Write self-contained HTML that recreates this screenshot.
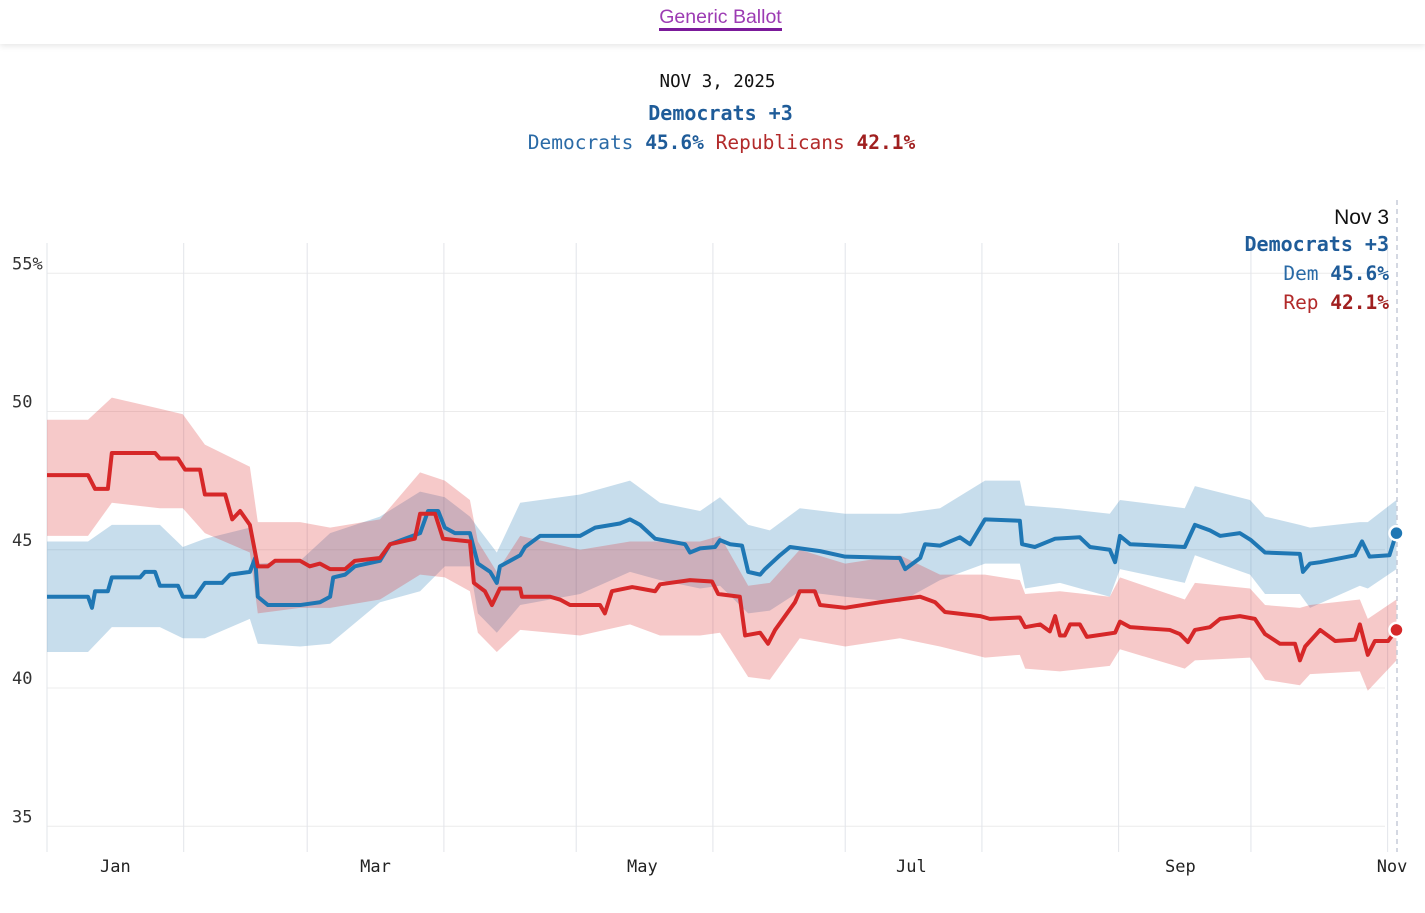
<!DOCTYPE html>
<html><head><meta charset="utf-8"><style>
html,body{margin:0;padding:0;background:#fff;width:1425px;height:913px;overflow:hidden}
.mono{font-family:"DejaVu Sans Mono","Liberation Mono",monospace}
#hdr{position:absolute;left:0;top:0;width:1425px;height:44px;background:#fff;box-shadow:0 2px 6px rgba(0,0,0,0.10);z-index:2}
#hdr a{position:absolute;left:8px;width:1425px;top:6px;text-align:center;font-family:"Liberation Sans",sans-serif;font-size:19.5px;color:#9c3bb3;text-decoration:none}
#hdr a span{border-bottom:3px solid #7b1a9a;padding-bottom:0}
.t{position:absolute;left:0;width:1425px;text-align:center}
</style></head><body>
<div id="hdr"><a><span>Generic Ballot</span></a></div>
<div class="t mono" style="top:72px;left:5px;font-size:17.5px;color:#111">NOV 3, 2025</div>
<div class="t mono" style="top:101px;left:8px;font-size:20px;font-weight:bold;color:#1f5c99">Democrats +3</div>
<div class="t mono" style="top:131px;left:9px;font-size:19.5px"><span style="color:#2a6aa6">Democrats</span> <b style="color:#1f5c99">45.6%</b>  <span style="color:#b22a2a">Republicans</span> <b style="color:#a01f1f">42.1%</b></div>
<svg id="chart" width="1425" height="913" style="position:absolute;left:0;top:0"></svg>
<script>
const repDays=[0,9.3,10.9,13.8,14.7,24.5,25.6,29.7,31.3,34.7,35.8,40.4,42,43.8,46,47.8,50.1,51.7,57.4,59.6,61.9,64.2,67.6,69.8,75.5,77.8,83.4,84.6,88,89.8,95.9,96.8,99.3,100.9,102.7,107.3,107.7,114.1,116.3,118.6,125.4,126.5,128.1,132.7,137.9,139,145.8,150.8,152.2,157.1,158.3,161.7,163.5,165.1,169.6,170.7,174.1,175.3,181,188.9,193.4,198,201.4,203.6,211.6,213.8,220.6,221.8,225.2,227.4,228.6,229.7,230.8,232,234.2,235.8,242.2,243.3,245.6,254.6,256.9,258.7,260.3,263.7,266,270.5,273.9,276.2,279.6,283,284.1,285.3,288.7,292.1,296.6,297.7,299.5,301.1,304.1,306];
const repVals=[47.7,47.7,47.2,47.2,48.5,48.5,48.3,48.3,47.9,47.9,47.0,47.0,46.1,46.4,45.9,44.4,44.4,44.6,44.6,44.4,44.5,44.3,44.3,44.6,44.7,45.2,45.4,46.3,46.3,45.4,45.3,43.8,43.5,43.0,43.6,43.6,43.3,43.3,43.2,43.0,43.0,42.7,43.5,43.65,43.5,43.75,43.9,43.85,43.4,43.3,41.9,42.0,41.6,42.1,43.1,43.5,43.5,43.0,42.9,43.1,43.2,43.3,43.1,42.75,42.6,42.5,42.55,42.2,42.3,42.05,42.6,41.9,41.9,42.3,42.3,41.85,42.0,42.4,42.2,42.1,41.95,41.66,42.1,42.2,42.5,42.6,42.5,41.95,41.6,41.6,41.0,41.5,42.1,41.7,41.75,42.3,41.2,41.7,41.7,42.1];
const demDays=[0,9.3,10.2,10.9,13.8,14.7,21.1,22.2,24.5,25.6,29.7,30.8,33.6,35.8,39.7,41.5,46,47.2,47.8,50.1,57.4,61.9,64.2,64.9,67.6,69.8,75.5,77.8,84.6,86.4,88.7,90.2,92.5,95.9,97.7,100.5,102,102.7,107.3,108.4,111.8,120.9,124.3,129.9,132.2,134.5,137.9,144.7,145.8,148.1,151.5,152.6,154.9,157.6,159,161.7,162.8,166.2,168.5,175.3,181,193.4,194.6,198,199.1,202.5,207,209.3,212.7,220.6,221.1,224,228.6,234.2,236.5,241,242.2,243.3,245.6,258,260.3,263.7,266,270.5,273,276.2,284.1,284.8,286.4,288.7,296.6,298.2,299.9,304.4,306];
const demVals=[43.3,43.3,42.9,43.5,43.5,44.0,44.0,44.2,44.2,43.7,43.7,43.3,43.3,43.8,43.8,44.1,44.2,44.7,43.3,43.0,43.0,43.1,43.3,44.0,44.1,44.4,44.6,45.2,45.6,46.4,46.4,45.8,45.6,45.6,44.5,44.2,43.8,44.4,44.8,45.1,45.5,45.5,45.8,45.95,46.1,45.9,45.4,45.2,44.9,45.05,45.1,45.35,45.2,45.15,44.2,44.1,44.3,44.8,45.1,44.95,44.75,44.7,44.3,44.7,45.2,45.15,45.45,45.2,46.1,46.05,45.2,45.1,45.4,45.45,45.1,45.0,44.55,45.5,45.2,45.1,45.9,45.7,45.5,45.6,45.35,44.9,44.85,44.2,44.5,44.55,44.8,45.3,44.75,44.8,45.6];
const bandDays=[0,9.3,14.7,25.6,30.8,35.8,46,47.8,57.4,64.2,75.5,84.6,90.2,95.9,97.7,102,107.3,120.9,132.2,139,148.1,152.6,159,163.9,170.7,181,193.4,202.5,212.7,220.6,221.8,229.7,241,243.3,258,260.3,272.8,276.2,284.1,286.4,297.7,299.5,306];
const demLo=[41.3,41.3,42.2,42.2,41.8,41.8,42.5,41.6,41.5,41.6,43.1,43.5,44.4,44.4,42.7,42.0,43.0,43.4,44.2,43.9,43.6,43.7,42.7,42.8,43.5,43.3,43.1,43.9,44.5,44.5,43.6,43.8,43.3,44.3,43.8,44.8,44.1,43.4,43.4,42.9,43.7,43.6,44.3];
const demHi=[45.3,45.3,45.9,45.9,45.1,45.4,45.8,44.5,44.6,45.6,46.2,47.1,46.9,46.2,45.8,44.9,46.7,47.0,47.5,46.7,46.4,46.9,45.9,45.7,46.5,46.3,46.3,46.5,47.5,47.5,46.6,46.5,46.3,46.8,46.5,47.3,46.8,46.2,45.9,45.8,46.0,46.0,46.8];
const repLo=[45.5,45.5,46.7,46.5,46.5,45.6,44.9,42.7,42.9,42.9,43.2,44.1,44.0,43.5,42.0,41.3,42.1,41.9,42.3,41.9,41.9,42.0,40.4,40.3,41.8,41.5,41.8,41.5,41.1,41.2,40.7,40.6,40.8,41.4,40.7,41.0,41.1,40.3,40.1,40.5,40.6,39.9,41.0];
const repHi=[49.7,49.7,50.5,50.1,49.9,48.8,48.0,46.0,46.0,45.8,46.1,47.8,47.5,46.8,45.3,44.2,45.5,45.0,45.3,45.3,45.3,45.5,43.7,43.8,45.0,44.5,44.8,44.1,44.1,43.9,43.4,43.5,43.3,44.0,43.2,43.8,43.6,43.0,42.9,43.0,43.2,42.5,43.2];
const yTicks=[35,40,45,50,55];
const yTickLabels=["35","40","45","50","55%"];
const monthStarts=[0,31,59,90,120,151,181,212,243,273,304];
const monthLabels=["Jan","Mar","May","Jul","Sep","Nov"];
const monthLabelDays=[15.5,74.5,135,196,257,305];

const NS="http://www.w3.org/2000/svg";
const svg=document.getElementById('chart');
const X0=47,PXD=4.41;
const x=d=>X0+d*PXD;
const y=v=>688-(v-40)*27.65;
function mk(t,a,p){const e=document.createElementNS(NS,t);for(const k in a)e.setAttribute(k,a[k]);(p||svg).appendChild(e);return e;}
yTicks.forEach((v,i)=>{
 const l=mk('line',{x1:47,x2:1385,y1:y(v),y2:y(v),stroke:'#ececec','stroke-width':1});
 
 
 const t=mk('text',{x:12,y:y(v)-4,'font-family':'DejaVu Sans Mono, monospace','font-size':17,fill:'#333'});
 t.textContent=yTickLabels[i];
 
 
});
monthStarts.forEach(d=>{
 const l=mk('line',{x1:x(d),x2:x(d),y1:243,y2:852,stroke:'#e2e4ea','stroke-width':1});
 
 
});
monthLabels.forEach((m,i)=>{
 const t=mk('text',{x:x(monthLabelDays[i]),y:872,'text-anchor':'middle','font-family':'DejaVu Sans Mono, monospace','font-size':17,fill:'#222'});
 t.textContent=m;
 
 
});
function band(lo,hi,fill,name){
 let d='M'+bandDays.map((dd,i)=>x(dd)+','+y(hi[i])).join('L');
 for(let i=bandDays.length-1;i>=0;i--)d+='L'+x(bandDays[i])+','+y(lo[i]);
 const p=mk('path',{d:d+'Z',fill:fill});
 
 
}
band(demLo,demHi,'rgba(31,119,180,0.25)','dem-confidence-band');
band(repLo,repHi,'rgba(220,40,40,0.25)','rep-confidence-band');
function line(days,vals,col,name){
 const p=mk('path',{d:'M'+days.map((d,i)=>x(d)+','+y(vals[i])).join('L'),fill:'none',stroke:col,'stroke-width':4,'stroke-linejoin':'round'});
 
 
}
line(demDays,demVals,'#1f77b4','dem-line');
line(repDays,repVals,'#d62728','rep-line');
const dl=mk('line',{x1:1397,x2:1397,y1:200,y2:852,stroke:'#c5ccd8','stroke-width':1.5,'stroke-dasharray':'5,4'});


const c1=mk('circle',{cx:x(demDays[demDays.length-1]),cy:y(demVals[demVals.length-1]),r:7,fill:'#1f77b4',stroke:'#fff','stroke-width':2.5});


const c2=mk('circle',{cx:x(repDays[repDays.length-1]),cy:y(repVals[repVals.length-1]),r:7,fill:'#d62728',stroke:'#fff','stroke-width':2.5});


const g=mk('g',{});


const tt=[["Nov 3",'Liberation Sans, sans-serif',21,'normal','#111',224],["Democrats +3",'DejaVu Sans Mono, monospace',20,'bold','#1f5c99',251]];
tt.forEach(r=>{const t=mk('text',{x:1389,y:r[5],'text-anchor':'end','font-family':r[1],'font-size':r[2],'font-weight':r[3],fill:r[4]},g);t.textContent=r[0];});
const t3=mk('text',{x:1389,y:280,'text-anchor':'end','font-family':'DejaVu Sans Mono, monospace','font-size':19.5},g);
t3.innerHTML='<tspan fill="#2a6aa6">Dem </tspan><tspan fill="#1f5c99" font-weight="bold">45.6%</tspan>';
const t4=mk('text',{x:1389,y:309,'text-anchor':'end','font-family':'DejaVu Sans Mono, monospace','font-size':19.5},g);
t4.innerHTML='<tspan fill="#b22a2a">Rep </tspan><tspan fill="#a01f1f" font-weight="bold">42.1%</tspan>';
</script>
</body></html>
